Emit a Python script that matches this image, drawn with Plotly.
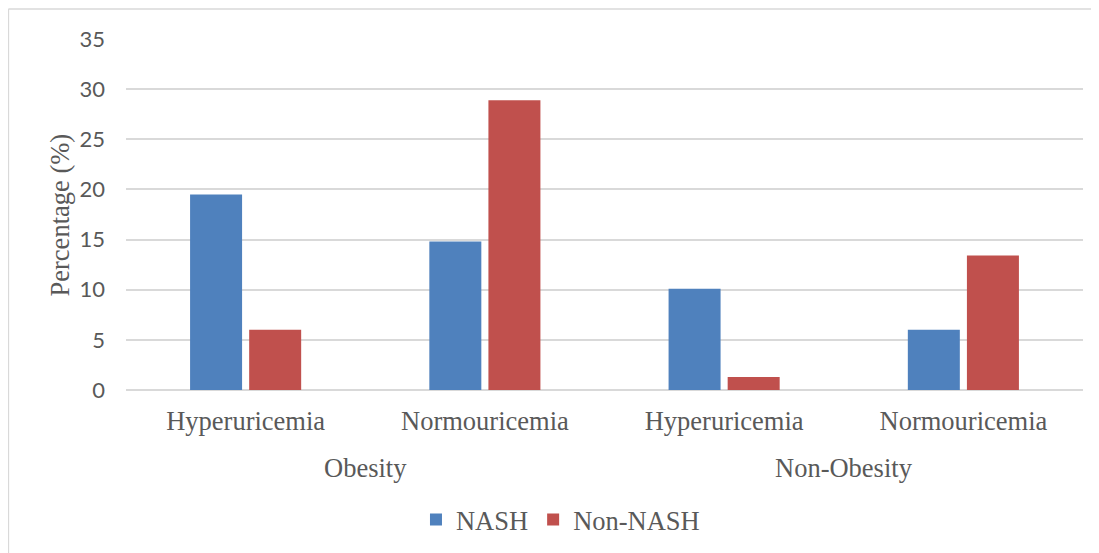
import plotly.graph_objects as go

groups = ["Obesity", "Obesity", "Non-Obesity", "Non-Obesity"]
subgroups = ["Hyperuricemia", "Normouricemia", "Hyperuricemia", "Normouricemia"]
nash = [19.5, 14.8, 10.1, 6.0]
non_nash = [6.0, 28.9, 1.3, 13.4]
y_ticks = [0, 5, 10, 15, 20, 25, 30, 35]
group_names = ["Obesity", "Non-Obesity"]

keys = [g + " | " + s for g, s in zip(groups, subgroups)]

SERIF = "Liberation Serif"
GRAY = "#595959"

fig = go.Figure()
fig.add_trace(go.Bar(x=keys, y=nash, name="NASH",
                     marker=dict(color="#4F81BD", line=dict(width=0))))
fig.add_trace(go.Bar(x=keys, y=non_nash, name="Non-NASH",
                     marker=dict(color="#C0504D", line=dict(width=0))))

annotations = [dict(text="Percentage (%)", textangle=-90, xref="paper", yref="paper",
                    x=-0.069, y=0.5, xanchor="center", yanchor="middle", showarrow=False,
                    font=dict(family=SERIF, size=26.5, color=GRAY))]
for i, g in enumerate(group_names):
    annotations.append(dict(text=g, xref="x", yref="paper", x=2 * i + 0.5, y=-0.222,
                            xanchor="center", yanchor="middle", showarrow=False,
                            font=dict(family=SERIF, size=26.5, color=GRAY)))

fig.update_layout(
    width=1099, height=553,
    margin=dict(l=118, r=24, t=31, b=171),
    paper_bgcolor="white", plot_bgcolor="white",
    barmode="group", bargap=0.506, bargroupgap=0.12,
    showlegend=True,
    legend=dict(orientation="h", x=0.454, xanchor="center", y=-0.37, yanchor="middle",
                font=dict(family=SERIF, size=26.5, color=GRAY), itemwidth=30),
    xaxis=dict(type="category", tickvals=keys, ticktext=subgroups, showgrid=False,
               showline=False, ticks="", automargin=False,
               tickfont=dict(family=SERIF, size=26.5, color=GRAY), ticklabelstandoff=12),
    yaxis=dict(range=[0, 35], tickvals=y_ticks, showgrid=True, gridcolor="#D9D9D9",
               gridwidth=1.5, zeroline=True, zerolinecolor="#D9D9D9", zerolinewidth=1.5,
               showline=False, automargin=False,
               tickfont=dict(family="Lato", size=22, color=GRAY), ticklabelstandoff=20),
    annotations=annotations,
    shapes=[
        dict(type="line", xref="paper", yref="paper", x0=-0.1229, x1=1.05, y0=1.0855, y1=1.0855,
             line=dict(color="#D9D9D9", width=1.5)),
        dict(type="line", xref="paper", yref="paper", x0=-0.1229, x1=-0.1229, y0=1.0855, y1=-0.6,
             line=dict(color="#D9D9D9", width=1.5)),
    ],
)

fig.write_html("out.html")
